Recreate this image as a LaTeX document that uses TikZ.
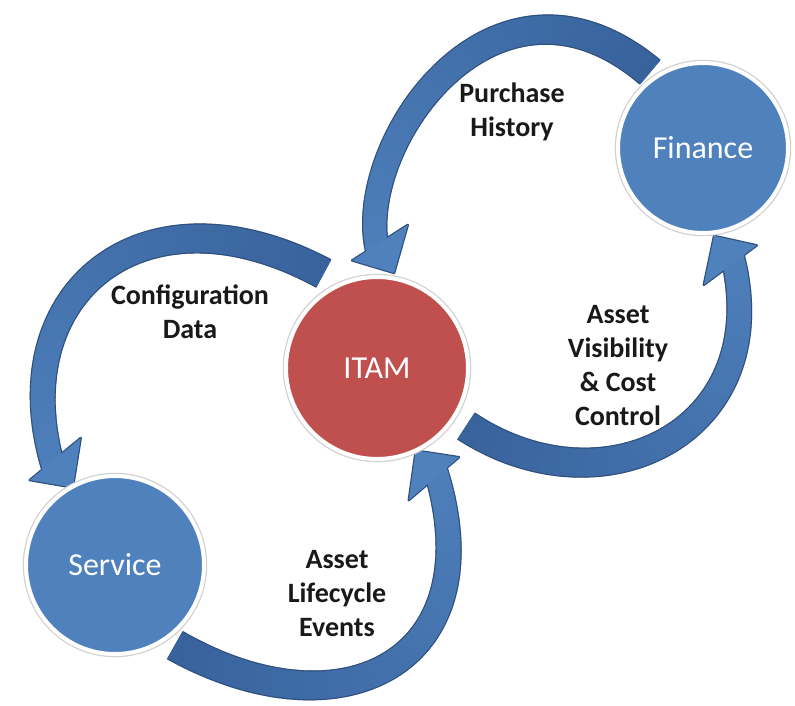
\documentclass[tikz,border=0pt]{standalone}
\usepackage{fontspec}
\setmainfont{Carlito}
\usetikzlibrary{decorations.markings}

\definecolor{hubblue}{RGB}{79,129,189}
\definecolor{hubred}{RGB}{192,80,77}
\definecolor{flowdark}{RGB}{56,98,156}
\definecolor{flowlight}{RGB}{79,129,189}
\definecolor{flowedge}{RGB}{46,79,125}

\pgfdeclarelayer{background}
\pgfsetlayers{background,main}

% band width at the tail and at the head (pt)
\def\wtail{30}
\def\whead{22}

% one thin slice of a band, laid across the path
\newcommand\bandwidth{%
  \pgfmathsetmacro\bandfr{\pgfkeysvalueof{/pgf/decoration/mark info/distance from start}/\pgfdecoratedpathlength}%
  \pgfmathsetmacro\bandhw{(\wtail+(\whead-\wtail)*\bandfr)/2}}
\newcommand\edgeslice{\bandwidth
  \fill[flowedge] (-0.8,-\bandhw-1.2) rectangle (0.8,\bandhw+1.2);}
\newcommand\bodyslice{\bandwidth
  \pgfmathtruncatemacro\bandpc{100*\bandfr}%
  \fill[flowlight!\bandpc!flowdark] (-0.8,-\bandhw) rectangle (0.8,\bandhw);}

\tikzset{
  hub/.style={circle, fill=#1, draw=white, line width=4pt, outer sep=8pt, inner sep=0pt,
    preaction={draw=black!18, line width=6.5pt},
    text=white, font=\fontsize{32}{38}\selectfont},
  note/.style={align=center, text=black!90, font=\bfseries\fontsize{28}{34}\selectfont},
  flow/.style={
    postaction={decorate, decoration={markings,
      mark=between positions #1 and -18pt step 1pt with {\edgeslice},
      mark=at position -34pt with {\filldraw[flowedge, line width=2.4pt, line join=round] (-12,34) -- (34,14) -- (16,-26) -- cycle;}}},
    postaction={decorate, decoration={markings,
      mark=between positions #1 and -18pt step 1pt with {\bodyslice},
      mark=at position -34pt with {\fill[flowlight] (-12,34) -- (34,14) -- (16,-26) -- cycle;}}}},
  flow/.default=0pt,
}

\begin{document}
\begin{tikzpicture}[x=1pt, y=1pt]
\useasboundingbox (0,0) rectangle (795,-705);

% the three parties
\node[hub=hubblue, minimum size=170pt] (fin) at (703,-148) {Finance};
\node[hub=hubred, minimum size=182pt] (itam) at (377,-368) {ITAM};
\node[hub=hubblue, minimum size=178pt] (service) at (115,-565) {Service};

% curved flows between them
\begin{pgfonlayer}{background}
\path[flow] (fin.125) .. controls +(140:215) and +(116:110) .. (itam.86);
\path[flow=12pt] (itam.116) .. controls +(150:220) and +(110:200) .. (service.125);
\path[flow=4pt] (service.-54) .. controls +(-30:200) and +(-70:220) .. (itam.-58);
\path[flow=8pt] (itam.-33) .. controls +(-35:175) and +(-72:200) .. (fin.-75);
\end{pgfonlayer}

% flow labels
\node[note] (purchase) at (512,-112) {Purchase\\History};
\node[note] (config) at (190,-312) {Configuration\\Data};
\node[note] (visibility) at (618,-366) {Asset\\Visibility\\\& Cost\\Control};
\node[note] (lifecycle) at (337,-594) {Asset\\Lifecycle\\Events};
\end{tikzpicture}
\end{document}
